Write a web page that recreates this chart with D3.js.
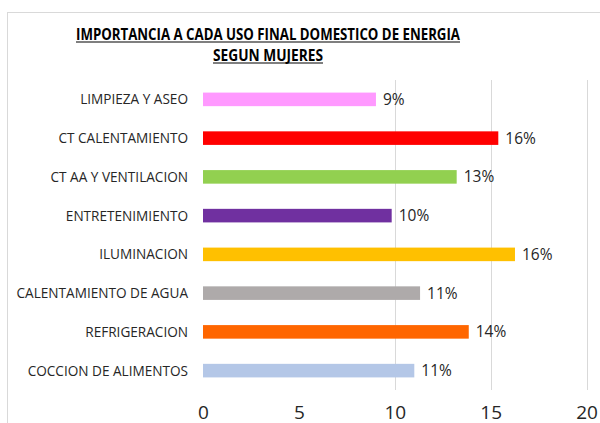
<!DOCTYPE html>
<html><head><meta charset="utf-8">
<script src="https://cdn.jsdelivr.net/npm/d3@7"></script>
<style>body{margin:0;background:#fff}svg{display:block}</style>
</head><body>
<script>
const categories = ["LIMPIEZA Y ASEO","CT CALENTAMIENTO","CT AA Y VENTILACION","ENTRETENIMIENTO","ILUMINACION","CALENTAMIENTO DE AGUA","REFRIGERACION","COCCION DE ALIMENTOS"];
const values = [9.02, 15.4, 13.23, 9.84, 16.27, 11.32, 13.86, 11.02];
const valueLabels = ["9%","16%","13%","10%","16%","11%","14%","11%"];
const colors = ["#ff99ff","#ff0000","#92d050","#7030a0","#ffc000","#aeaaaa","#ff6600","#b4c7e7"];
const ticks = [0,5,10,15,20];
const gridTicks = [10,15,20];
const titleLines = ["IMPORTANCIA A CADA USO FINAL DOMESTICO DE ENERGIA","SEGUN MUJERES"];

const W=600,H=423;
const svg=d3.select("body").append("svg").attr("width",W).attr("height",H);
svg.append("rect").attr("x",7.5).attr("y",12.5).attr("width",W).attr("height",H).attr("fill","#fff").attr("stroke","#d9d9d9");

const x=d3.scaleLinear().domain([0,20]).range([203,586.5]);
const y=d3.scaleBand().domain(categories).range([80,390]).paddingInner(0.65).paddingOuter(0.325);

// gridlines
svg.append("g").selectAll("line").data(gridTicks).join("line")
  .attr("x1",d=>Math.round(x(d))+0.5).attr("x2",d=>Math.round(x(d))+0.5)
  .attr("y1",80).attr("y2",390).attr("stroke","#d9d9d9");

// title
const tw=[384,110], tb=[39.5,60.5];
titleLines.forEach((t,i)=>{
  svg.append("text").attr("x",268).attr("y",tb[i]).attr("text-anchor","middle")
    .attr("font-family","Open Sans").attr("font-weight","bold").attr("font-size",16)
    .attr("textLength",tw[i]).attr("lengthAdjust","spacingAndGlyphs").attr("fill","#000").text(t);
  svg.append("line").attr("x1",268-tw[i]/2).attr("x2",268+tw[i]/2).attr("y1",tb[i]+2.5).attr("y2",tb[i]+2.5)
    .attr("stroke","#000").attr("stroke-width",1.2);
});

// bars
svg.append("g").selectAll("rect").data(categories).join("rect")
  .attr("x",x(0)).attr("y",d=>y(d)).attr("height",y.bandwidth())
  .attr("width",(d,i)=>x(values[i])-x(0)).attr("fill",(d,i)=>colors[i]);

// category labels
svg.append("g").selectAll("text").data(categories).join("text")
  .attr("x",188).attr("y",d=>y(d)+y.bandwidth()/2).attr("dy","0.36em")
  .attr("text-anchor","end").attr("font-family","Open Sans").attr("font-size",13.6)
  .attr("fill","#262626").text(d=>d);

// value labels
svg.append("g").selectAll("text").data(categories).join("text")
  .attr("x",(d,i)=>x(values[i])+7).attr("y",d=>y(d)+y.bandwidth()/2).attr("dy","0.36em")
  .attr("font-family","Open Sans").attr("font-size",15.5)
  .attr("fill","#262626").text((d,i)=>valueLabels[i]);

// x axis
const ax=svg.append("g").attr("transform","translate(0,405)")
  .call(d3.axisBottom(x).tickValues(ticks).tickSize(0).tickPadding(0));
ax.select(".domain").remove();
ax.selectAll("text").attr("font-family","Open Sans").attr("font-size",19).attr("fill","#262626").attr("dy","0.71em");
</script>
</body></html>
